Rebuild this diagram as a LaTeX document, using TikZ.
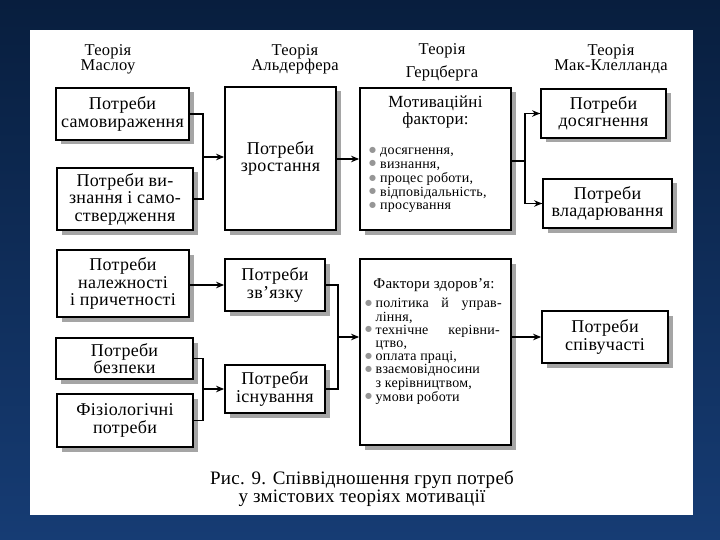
\documentclass[tikz,border=0pt]{standalone}
\usepackage{fontspec}
\setmainfont{Liberation Serif}[LetterSpace=1.5]
\newfontfamily\symfont{DejaVu Sans}
\usetikzlibrary{arrows.meta,shadows}
\definecolor{bgtop}{RGB}{8,30,62}
\definecolor{bgbot}{RGB}{22,60,116}
\definecolor{shgray}{RGB}{165,165,165}
\definecolor{bulgray}{RGB}{150,150,150}
\newcommand{\bul}{\raisebox{0.35ex}{\color{bulgray}\symfont\fontsize{8}{8}\selectfont ●}}
\newcommand{\mkbox}[6]{%
  \node[box, minimum width={(#4-#2)*1pt}, minimum height={(#5-#3)*1pt}] (#1)
    at ({(#2+#4)/2},{(#3+#5)/2}) {#6};}
\tikzset{
  box/.style={draw=black, line width=1.8pt, fill=white, rectangle, inner sep=0pt, align=center,
    general shadow={fill=shgray, shadow xshift=4.5pt, shadow yshift=-4.5pt},
    font=\fontsize{18}{17.5}\selectfont},
  head/.style={align=center, inner sep=0pt, font=\fontsize{16.5}{15}\selectfont},
  ttl/.style={align=center, inner sep=0pt},
  lst/.style={align=left, inner sep=0pt, anchor=north west},
  conn/.style={line width=1.6pt},
  arr/.style={line width=1.8pt, -{Stealth[length=8pt,width=6.5pt]}}
}
\begin{document}
\begin{tikzpicture}[x=1pt,y=-1pt]
\useasboundingbox (0,0) rectangle (720,540);
\shade[top color=bgtop, bottom color=bgbot] (0,0) rectangle (720,540);
\fill[white] (30,30) rectangle (693,515);

% headers
\node[head] (h1) at (108,59) {Теорія\\Маслоу};
\node[head] (h2) at (295,59) {Теорія\\Альдерфера};
\node[head] (h3) at (442,62) {Теорія\\[7pt]Герцберга};
\node[head] (h4) at (611,59) {Теорія\\Мак-Клелланда};

% Maslow
\mkbox{A1}{56}{88}{189}{140}{Потреби\\самовираження}
\mkbox{A2}{57}{168}{193}{230}{Потреби ви-\\знання і само-\\ствердження}
\mkbox{A3}{57}{250}{189}{317}{Потреби\\належності\\і причетності}
\mkbox{A4}{56}{338}{193}{379}{Потреби\\безпеки}
\mkbox{A5}{57}{394}{193}{447}{Фізіологічні\\потреби}

% Alderfer
\mkbox{B1}{225}{87}{336}{230}{Потреби\\зростання}
\mkbox{B2}{225}{259}{325}{311}{Потреби\\зв’язку}
\mkbox{B3}{225}{365}{325}{413}{Потреби\\існування}

% Herzberg
\mkbox{C1}{360}{88}{511}{230}{}
\mkbox{C2}{360}{259}{511}{445}{}
\node[ttl, font=\fontsize{17}{14.5}\selectfont] (C1t) at (435.5,112) {Мотиваційні\\фактори:};
\node[lst, font=\fontsize{14}{13.8}\selectfont] (C1l) at (369,144.5) {%
\begin{tabular}{@{}l@{\hspace{4pt}}l@{}}
\bul & досягнення,\\
\bul & визнання,\\
\bul & процес роботи,\\
\bul & відповідальність,\\
\bul & просування
\end{tabular}};
\node[ttl, font=\fontsize{15}{14}\selectfont] (C2t) at (434,285) {Фактори здоров’я:};
\node[lst, font=\fontsize{14}{13.2}\selectfont] (C2l) at (365,298) {%
\begin{tabular}{@{}l@{\hspace{3.5pt}}l@{}}
\bul & \makebox[126pt][s]{політика\hfill й\hfill управ-}\\
     & ління,\\
\bul & \makebox[124pt][s]{технічне\hfill керівни-}\\
     & цтво,\\
\bul & оплата праці,\\
\bul & взаємовідносини\\
     & з керівництвом,\\
\bul & умови роботи
\end{tabular}};

% McClelland
\mkbox{D1}{541}{89}{666}{138}{Потреби\\досягнення}
\mkbox{D2}{543}{179}{672}{228}{Потреби\\владарювання}
\mkbox{D3}{542}{311}{668}{363}{Потреби\\співучасті}

% connectors
\coordinate (J1) at (203,157);
\draw[conn] (A1.east) -| (J1) |- (A2.east);
\draw[arr] (J1) -- (J1 -| B1.west);
\draw[arr] (B1.east |- C1.west) -- (C1.west);
\coordinate (J2) at (525,161);
\draw[conn] (C1.east |- J2) -- (J2);
\draw[conn] (J2) |- (D1.west);
\draw[conn] (J2) |- (D2.west);
\draw[arr] (J2 |- D1.west) -- (D1.west);
\draw[arr] (J2 |- D2.west) -- (D2.west);

\draw[arr] (A3.east |- B2.west) -- (B2.west);
\coordinate (J3) at (203,389);
\draw[conn] (A4.east) -| (J3) |- (A5.east);
\draw[arr] (J3) -- (J3 -| B3.west);
\coordinate (J4) at (338,337);
\draw[conn] (B2.east) -| (J4) |- (B3.east);
\draw[arr] (J4) -- (J4 -| C2.west);
\draw[arr] (C2.east |- D3.west) -- (D3.west);

% caption
\node[ttl, font=\fontsize{19}{16}\selectfont] (cap) at (362,489) {Рис. 9. Співвідношення груп потреб\\у змістових теоріях мотивації};
\end{tikzpicture}
\end{document}
